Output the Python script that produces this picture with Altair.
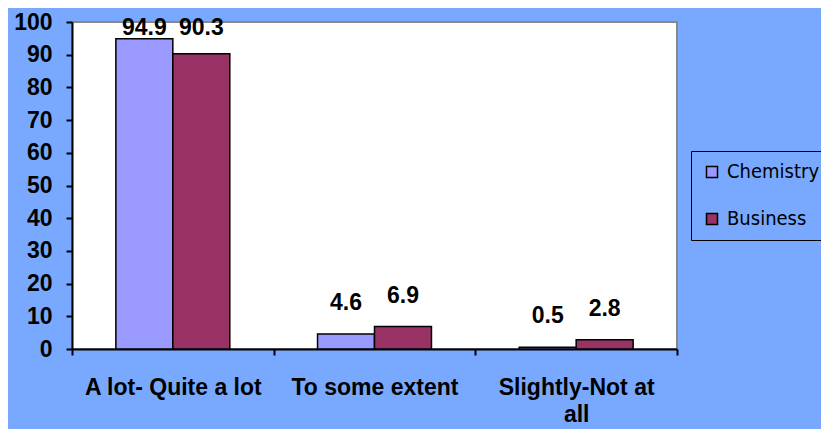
import altair as alt
import pandas as pd

categories = ["A lot- Quite a lot", "To some extent", "Slightly-Not at all"]
series_names = ["Chemistry", "Business"]
chemistry = [94.9, 4.6, 0.5]
business = [90.3, 6.9, 2.8]
colors = ["#9999FF", "#993366"]

rows = []
for c, a, b in zip(categories, chemistry, business):
    rows.append({"category": c, "series": "Chemistry", "value": a})
    rows.append({"category": c, "series": "Business", "value": b})
df = pd.DataFrame(rows)

FONT = "Liberation Sans"
BG = "#78A9FF"

x_axis = alt.Axis(
    title=None,
    labelAngle=0,
    tickBand="extent",
    labelExpr="datum.value == 'Slightly-Not at all' ? ['Slightly-Not at', 'all'] : datum.label",
    labelFont=FONT,
    labelFontSize=23,
    labelFontWeight="bold",
    labelColor="black",
    labelPadding=21,
    labelBaseline="top",
    labelLineHeight=27,
    labelLimit=0,
    labelOverlap=False,
    tickColor="black",
    tickSize=6,
    tickWidth=2,
    domainColor="black",
    domainWidth=2,
    grid=False,
)
y_axis = alt.Axis(
    title=None,
    values=list(range(0, 101, 10)),
    labelFont=FONT,
    labelFontSize=23,
    labelFontWeight="bold",
    labelColor="black",
    labelPadding=14,
    labelOverlap=False,
    tickColor="black",
    tickSize=6,
    tickWidth=2,
    domainColor="black",
    domainWidth=2,
    grid=False,
)
x_scale = alt.Scale(paddingInner=0, paddingOuter=0)
y_scale = alt.Scale(domain=[0, 100], nice=False)
xoff = alt.XOffset(
    "series:N", sort=series_names,
    scale=alt.Scale(paddingOuter=0.77, paddingInner=0),
)
color = alt.Color(
    "series:N",
    sort=series_names,
    scale=alt.Scale(domain=series_names, range=colors),
    legend=alt.Legend(
        title=None,
        orient="none",
        legendX=619,
        legendY=129,
        padding=11,
        strokeColor="black",
        fillColor=BG,
        symbolType="square",
        symbolSize=121,
        symbolStrokeColor="black",
        symbolStrokeWidth=1.5,
        labelFont="DejaVu Sans Condensed",
        labelFontSize=20,
        labelColor="black",
        labelOffset=5,
        labelLimit=0,
        rowPadding=27,
    ),
)

bars = alt.Chart(df).mark_bar(stroke="black", strokeWidth=1.5).encode(
    x=alt.X("category:N", sort=categories, scale=x_scale, axis=x_axis),
    xOffset=xoff,
    y=alt.Y("value:Q", scale=y_scale, axis=y_axis),
    color=color,
)

labels = alt.Chart(df).transform_calculate(
    label_y="min(datum.value + 7.3, 96)"
).mark_text(
    font=FONT, fontSize=23, fontWeight="bold", color="black", baseline="alphabetic"
).encode(
    x=alt.X("category:N", sort=categories, scale=x_scale, axis=x_axis),
    xOffset=xoff,
    y=alt.Y("label_y:Q", scale=y_scale, axis=y_axis),
    text=alt.Text("value:Q", format=".1f"),
)

chart = (
    alt.layer(bars, labels)
    .properties(
        width=605,
        height=327,
        background=BG,
        padding={"left": 64, "top": 14, "right": 144, "bottom": 80},
        autosize=alt.AutoSizeParams(type="none"),
    )
    .configure_view(fill="white", stroke="#888888", strokeWidth=2)
)

chart.save("out.html", embed_options={"renderer": "svg", "actions": False})
